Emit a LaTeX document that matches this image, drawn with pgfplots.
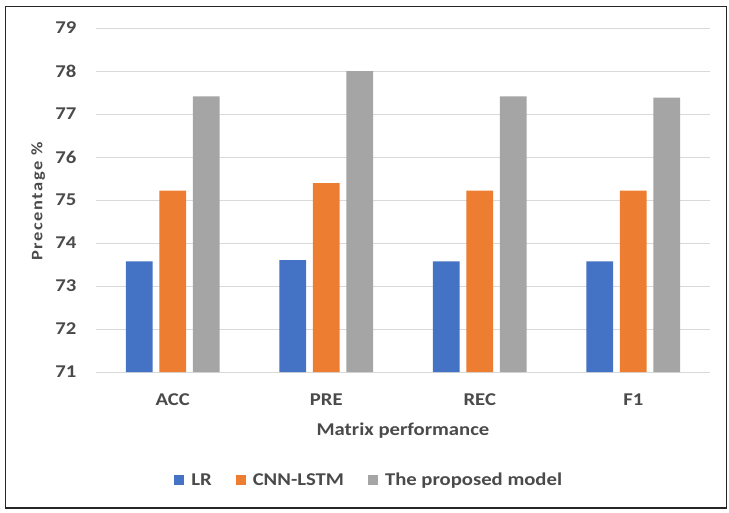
\documentclass[border=0pt]{standalone}
\usepackage{pgfplots}
\pgfplotsset{compat=1.18}
\usepackage{fontspec}
\setmainfont{Carlito}[FakeStretch=1.15]
\definecolor{cLR}{HTML}{4472C4}
\definecolor{cCNN}{HTML}{ED7D31}
\definecolor{cProp}{HTML}{A5A5A5}
\definecolor{cGrid}{HTML}{D9D9D9}
\definecolor{cText}{HTML}{4A4A4A}
\begin{document}
\begin{tikzpicture}[x=1pt,y=1pt]
\useasboundingbox (-96,-140) rectangle (633,372);
\draw[line width=1.5pt,black!85] (-90.5,-136) rectangle (630.5,365.3);
\begin{axis}[
  at={(0,0)}, anchor=south west,
  scale only axis, width=614pt, height=344pt,
  ybar=6.8pt, bar width=26.7pt,
  xmin=-0.5, xmax=3.5, ymin=71, ymax=79,
  xtick={0,1,2,3}, xticklabels={ACC,PRE,REC,F1},
  ytick={71,72,...,79},
  major tick length=0pt,
  axis line style={draw=none},
  ymajorgrids, grid style={cGrid, line width=1pt},
  /pgf/number format/assume math mode=true,
  tick label style={font=\fontsize{18}{20}\selectfont\bfseries, text=cText},
  xticklabel style={anchor=center, yshift=-28pt},
  yticklabel style={anchor=east, xshift=-16pt},
  xlabel={Matrix performance},
  xlabel style={at={(axis description cs:0.5,-0.169)}, anchor=center, font=\fontsize{18}{20}\selectfont\bfseries, text=cText},
  ylabel={\addfontfeatures{LetterSpace=10}Precentage \%},
  ylabel style={at={(axis description cs:-0.094,0.496)}, anchor=center, rotate=0, font=\fontsize{16}{18}\selectfont\bfseries, text=cText},
  legend style={at={(axis description cs:0.445,-0.314)}, anchor=center, draw=none, fill=none, legend columns=-1,
    font=\fontsize{18}{20}\selectfont\bfseries, text=cText,
    /tikz/every odd column/.append style={column sep=5pt},
    /tikz/every even column/.append style={column sep=22pt}},
  legend image code/.code={\fill[#1] (0pt,-5pt) rectangle (10pt,5pt);},
  legend cell align=left,
]
\addplot[fill=cLR, draw=none] coordinates {(0,73.57) (1,73.60) (2,73.57) (3,73.57)};
\addplot[fill=cCNN, draw=none] coordinates {(0,75.22) (1,75.39) (2,75.22) (3,75.22)};
\addplot[fill=cProp, draw=none] coordinates {(0,77.41) (1,78.00) (2,77.41) (3,77.38)};
\legend{LR,CNN-LSTM,The proposed model}
\end{axis}
\end{tikzpicture}
\end{document}
